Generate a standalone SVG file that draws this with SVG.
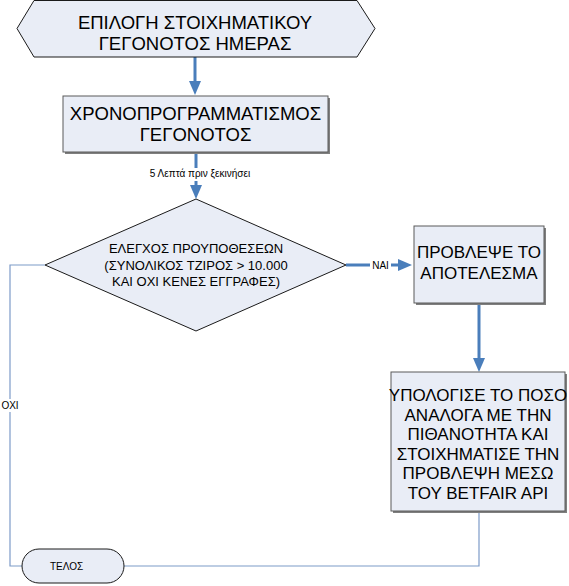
<svg xmlns="http://www.w3.org/2000/svg" width="569" height="586" viewBox="0 0 569 586">
<style>
  .shape { fill: #e9edf6; stroke: #1a1a1a; stroke-width: 1; }
  .box { fill: #e9edf6; stroke: #5a5a5a; stroke-width: 1; }
  .shadow { fill: #7f7f7f; }
  .t { font-family: "Liberation Sans", Arial, sans-serif; fill: #000; text-anchor: middle; }
  .big { font-size: 18.5px; }
  .mid { font-size: 17px; }
  .dia { font-size: 13px; }
  .small { font-size: 10px; }
  .thick { stroke: #4a7ebb; stroke-width: 3; fill: none; }
  .thin { stroke: #7d9bc8; stroke-width: 1.2; fill: none; }
  .lblbg { fill: #ffffff; }
</style>
<defs>
  <marker id="ah" markerUnits="userSpaceOnUse" viewBox="0 0 14 12" refX="0" refY="6" markerWidth="14" markerHeight="12" orient="auto">
    <path d="M0,0 L14,6 L0,12 z" fill="#4a7ebb"/>
  </marker>
</defs>
<rect width="569" height="586" fill="#ffffff"/>

<g id="connectors">
  <line class="thick" x1="195" y1="57" x2="195" y2="81" marker-end="url(#ah)"/>
  <line class="thick" x1="196" y1="152" x2="196" y2="185" marker-end="url(#ah)"/>
  <rect class="lblbg" x="149" y="168" width="102" height="13"/>
  <text class="t small" x="200" y="177">5 Λεπτά πριν ξεκινήσει</text>
  <line class="thick" x1="346" y1="265" x2="398" y2="265" marker-end="url(#ah)"/>
  <rect class="lblbg" x="370" y="259" width="21" height="12"/>
  <text class="t small" x="380.5" y="268.5">ΝΑΙ</text>
  <line class="thick" x1="479" y1="303" x2="479" y2="358" marker-end="url(#ah)"/>
  <polyline class="thin" points="45,265 10,265 10,566 22,566"/>
  <rect class="lblbg" x="1" y="399" width="19" height="13"/>
  <text class="t small" x="10" y="409">ΟΧΙ</text>
  <polyline class="thin" points="479,511 479,566 124,566"/>
</g>

<g id="node-start">
  <polygon class="shape" points="17,28.5 34,0.5 357,0.5 375,28.5 357,57 34,57"/>
  <text class="t big" x="195" y="28.5">ΕΠΙΛΟΓΗ ΣΤΟΙΧΗΜΑΤΙΚΟΥ</text>
  <text class="t big" x="195" y="50">ΓΕΓΟΝΟΤΟΣ ΗΜΕΡΑΣ</text>
</g>

<g id="node-schedule">
  <rect class="shadow" x="65" y="98" width="265" height="56"/>
  <rect class="box" x="63" y="96" width="265" height="56"/>
  <text class="t big" x="195.5" y="119.5">ΧΡΟΝΟΠΡΟΓΡΑΜΜΑΤΙΣΜΟΣ</text>
  <text class="t big" x="195.5" y="140.5">ΓΕΓΟΝΟΤΟΣ</text>
</g>

<g id="node-check">
  <polygon class="shape" points="196,199 346,265 196,331 45,265"/>
  <text class="t dia" x="196" y="253">ΕΛΕΓΧΟΣ ΠΡΟΥΠΟΘΕΣΕΩΝ</text>
  <text class="t dia" x="196" y="269.5">(ΣΥΝΟΛΙΚΟΣ ΤΖΙΡΟΣ &gt; 10.000</text>
  <text class="t dia" x="196" y="285.5">ΚΑΙ ΟΧΙ ΚΕΝΕΣ ΕΓΓΡΑΦΕΣ)</text>
</g>

<g id="node-predict">
  <rect class="shadow" x="416" y="228" width="130" height="77"/>
  <rect class="box" x="414" y="226" width="130" height="77"/>
  <text class="t mid" x="479" y="258">ΠΡΟΒΛΕΨΕ ΤΟ</text>
  <text class="t mid" x="479" y="278.5">ΑΠΟΤΕΛΕΣΜΑ</text>
</g>

<g id="node-bet">
  <rect class="shadow" x="393" y="374" width="174" height="139"/>
  <rect class="box" x="391" y="372" width="174" height="139"/>
  <text class="t mid" x="478" y="401">ΥΠΟΛΟΓΙΣΕ ΤΟ ΠΟΣΟ</text>
  <text class="t mid" x="478" y="420.5">ΑΝΑΛΟΓΑ ΜΕ ΤΗΝ</text>
  <text class="t mid" x="478" y="440">ΠΙΘΑΝΟΤΗΤΑ ΚΑΙ</text>
  <text class="t mid" x="478" y="459.5">ΣΤΟΙΧΗΜΑΤΙΣΕ ΤΗΝ</text>
  <text class="t mid" x="478" y="479">ΠΡΟΒΛΕΨΗ ΜΕΣΩ</text>
  <text class="t mid" x="478" y="498.5">ΤΟΥ BETFAIR API</text>
</g>

<g id="node-end">
  <rect class="shape" x="22" y="549" width="102" height="34" rx="17" ry="17"/>
  <text class="t small" x="66.5" y="569.5">ΤΕΛΟΣ</text>
</g>
</svg>
